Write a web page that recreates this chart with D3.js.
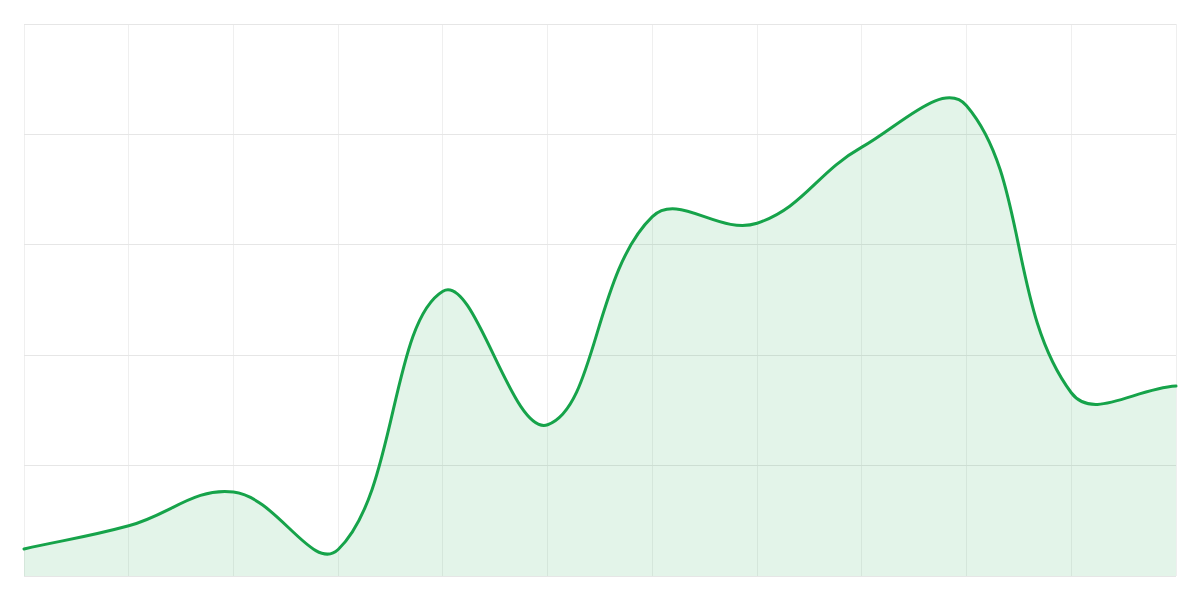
<!DOCTYPE html>
<html>
<head>
<meta charset="utf-8">
<script src="https://cdn.jsdelivr.net/npm/d3@7"></script>
<style>
  html, body { margin: 0; padding: 0; background: #ffffff; }
  svg { display: block; }
</style>
</head>
<body>
<svg id="chart" width="1200" height="600"></svg>
<script>
// ---- data ----
const categories = [0, 1, 2, 3, 4, 5, 6, 7, 8, 9, 10, 11];
const values = [4.9, 9.1, 15.2, 4.8, 51.6, 27.4, 65.1, 63.9, 77.7, 85.2, 33.2, 34.4];
const yTicks = [0, 20, 40, 60, 80, 100];

// ---- layout ----
const W = 1200, H = 600;
const m = { top: 24, right: 24, bottom: 24, left: 24 };
const svg = d3.select("#chart");

const x = d3.scaleLinear().domain([0, categories.length - 1]).range([m.left, W - m.right]);
const y = d3.scaleLinear().domain([0, 100]).range([H - m.bottom, m.top]);

// Chart.js-like tension spline as a d3 curve factory
function curveTension(tension) {
  return function (context) {
    let pts = [];
    return {
      areaStart() { this._area = true; },
      areaEnd() { this._area = false; },
      lineStart() { pts = []; },
      point(px, py) { pts.push([+px, +py]); },
      lineEnd() {
        const n = pts.length;
        if (!n) return;
        const cps = pts.map((c, i) => {
          const p = pts[i - 1] || c, nx = pts[i + 1] || c;
          const d01 = Math.hypot(c[0] - p[0], c[1] - p[1]);
          const d12 = Math.hypot(nx[0] - c[0], nx[1] - c[1]);
          let s01 = d01 / (d01 + d12), s12 = d12 / (d01 + d12);
          if (!isFinite(s01)) s01 = 0;
          if (!isFinite(s12)) s12 = 0;
          const fa = tension * s01, fb = tension * s12;
          return {
            prev: [c[0] - fa * (nx[0] - p[0]), c[1] - fa * (nx[1] - p[1])],
            next: [c[0] + fb * (nx[0] - p[0]), c[1] + fb * (nx[1] - p[1])]
          };
        });
        if (this._area) context.lineTo(pts[0][0], pts[0][1]);
        else context.moveTo(pts[0][0], pts[0][1]);
        for (let i = 1; i < n; i++) {
          const a = cps[i - 1].next, b = cps[i].prev;
          context.bezierCurveTo(a[0], a[1], b[0], b[1], pts[i][0], pts[i][1]);
        }
        if (this._area) context.closePath();
      }
    };
  };
}

const data = categories.map((c, i) => ({ c, v: values[i] }));

// grid
const grid = svg.append("g");
grid.selectAll("line.v").data(categories).enter().append("line")
  .attr("x1", d => x(d)).attr("x2", d => x(d))
  .attr("y1", y(100)).attr("y2", y(0))
  .attr("stroke", "#efefef").attr("stroke-width", 1)
  .attr("shape-rendering", "crispEdges");
grid.selectAll("line.h").data(yTicks).enter().append("line")
  .attr("x1", x(0)).attr("x2", x(categories.length - 1))
  .attr("y1", d => y(d)).attr("y2", d => y(d))
  .attr("stroke", "#e6e6e6").attr("stroke-width", 1)
  .attr("shape-rendering", "crispEdges");

const lineGen = d3.line().x(d => x(d.c)).y(d => y(d.v)).curve(curveTension(0.4));
const topPath = lineGen(data);

// area fill
svg.append("path")
  .attr("d", topPath + `L${x(categories.length - 1)},${y(0)}L${x(0)},${y(0)}Z`)
  .attr("fill", "rgba(22,163,74,0.12)")
  .attr("stroke", "none");

// line
svg.append("path")
  .attr("d", topPath)
  .attr("fill", "none")
  .attr("stroke", "#16a34a")
  .attr("stroke-width", 3)
  .attr("stroke-linejoin", "round")
  .attr("stroke-linecap", "round");
</script>
</body>
</html>
